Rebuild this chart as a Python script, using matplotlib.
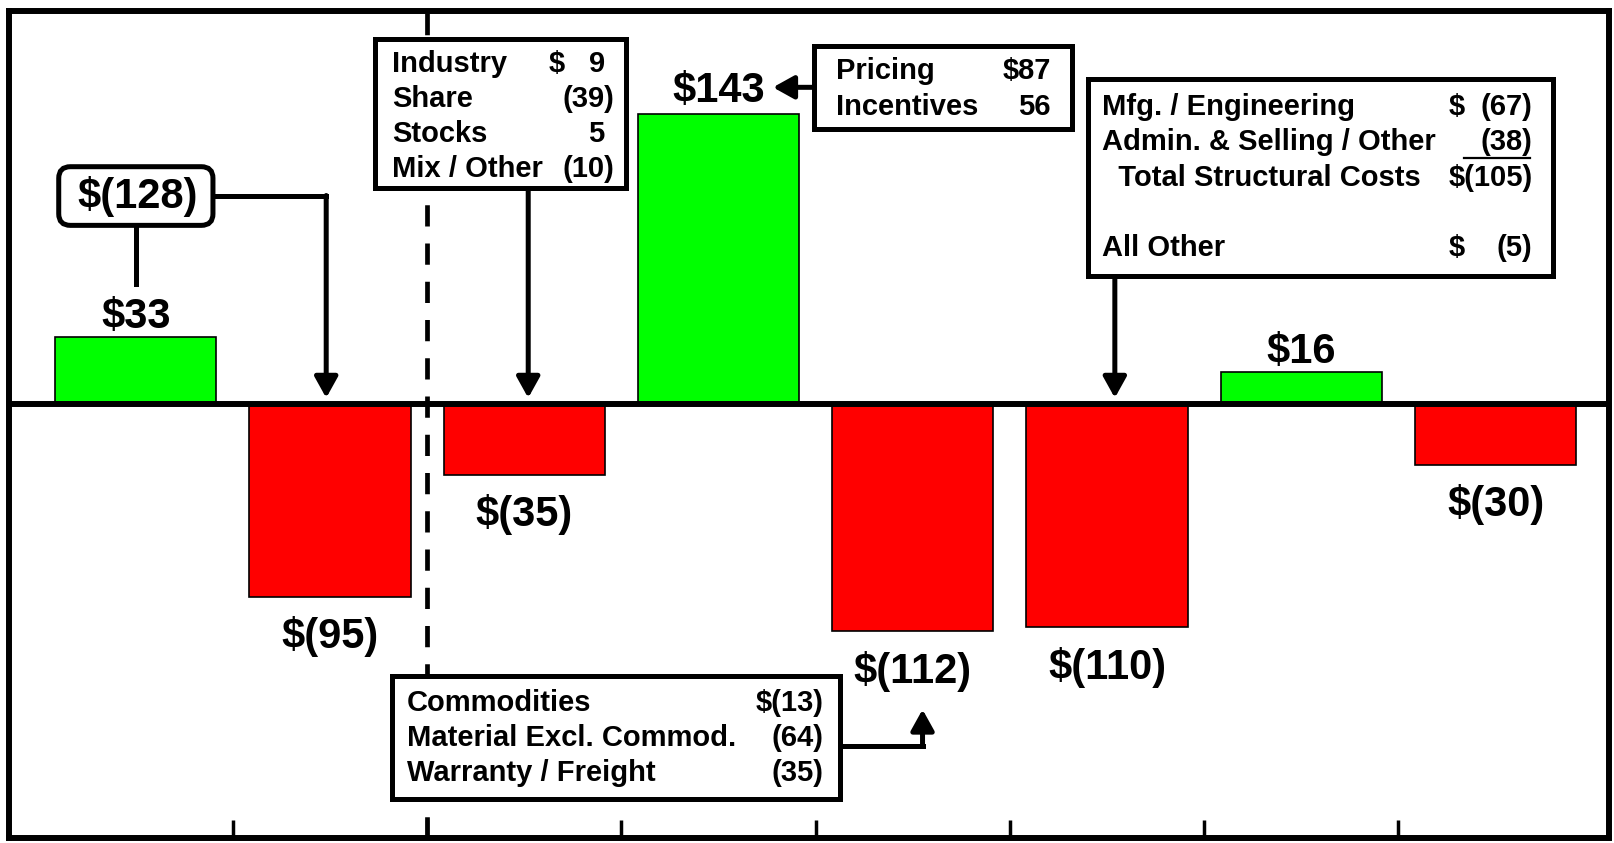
import matplotlib.pyplot as plt
from matplotlib.patches import Rectangle, FancyBboxPatch

plt.rcParams["font.family"] = ["Liberation Sans", "DejaVu Sans"]
plt.rcParams["font.weight"] = "bold"

# bar values (walk components), in $ millions
values = [33, -95, -35, 143, -112, -110, 16, -30]
subtotal = -128

volume_items = ["Industry", "Share", "Stocks", "Mix / Other"]
volume_vals = [9, -39, 5, -10]
volume_dollar = ["sep", None, None, None]

price_items = ["Pricing", "Incentives"]
price_vals = [87, 56]
price_dollar = ["adj", None]

cost_items = ["Commodities", "Material Excl. Commod.", "Warranty / Freight"]
cost_vals = [-13, -64, -35]
cost_dollar = ["adj", None, None]

struct_items = ["Mfg. / Engineering", "Admin. & Selling / Other",
                "  Total Structural Costs", "", "All Other"]
struct_vals = [-67, -38, -105, None, -5]
struct_dollar = ["sep", None, "adj", None, "sep"]

GREEN = "#00ff00"
RED = "#ff0000"
BIG = 30
SMALL = 21
LW = 3.6


def fmt(v):
    return "(%d)" % abs(v) if v < 0 else "%d" % v


def money(v):
    return "$" + fmt(v)


def table_box(ax, x0, x1, y0, y1, items, vals, dollars, xl, xr, xs, ytop, step):
    ax.add_patch(Rectangle((x0, y0), x1 - x0, y1 - y0, fc="white", ec="black",
                           lw=LW, zorder=5))
    for k, (name, v, d) in enumerate(zip(items, vals, dollars)):
        y = ytop - k * step
        if name:
            ax.text(xl, y, name, ha="left", va="center", fontsize=SMALL, zorder=6)
        if v is None:
            continue
        txt = fmt(v)
        if d == "adj":
            txt = "$" + txt
        elif d == "sep":
            ax.text(xs, y, "$", ha="left", va="center", fontsize=SMALL, zorder=6)
        shift = 0 if v < 0 else -0.333 * SMALL
        ax.annotate(txt, (xr, y), xytext=(shift, 0), textcoords="offset points",
                    ha="right", va="center", fontsize=SMALL, zorder=6)


fig = plt.figure(figsize=(16.14, 8.43), dpi=100)
ax = fig.add_axes([9 / 1614, 5 / 843, 1600 / 1614, 827 / 843])
ax.set_xlim(-0.653, 7.584)
ax.set_ylim(-213.8, 193.6)

x = list(range(len(values)))
colors = [GREEN if v > 0 else RED for v in values]
ax.bar(x, values, width=0.83, color=colors, edgecolor="black", lw=1.2, zorder=2)
ax.axhline(0, color="black", lw=4.3, zorder=3)
ax.axvline(1.5, color="black", lw=3.4, ls=(0, (4.5, 3.6)), zorder=1)

for i, v in enumerate(values):
    if i == 3:
        continue
    if v > 0:
        ax.text(i, v, money(v), ha="center", va="bottom", fontsize=BIG, zorder=6)
    else:
        ax.text(i, v - 9.5, money(v), ha="center", va="top", fontsize=BIG, zorder=6)

for s in ax.spines.values():
    s.set_linewidth(4.3)
ax.set_yticks([])
ax.set_xticks([i + 0.5 for i in range(len(values) - 1)])
ax.set_xticklabels([])
ax.tick_params(axis="x", direction="in", length=13, width=2.5)

arrow = dict(arrowstyle="-|>,head_length=0.45,head_width=0.25", lw=LW,
             color="black", mutation_scale=28, shrinkA=0, shrinkB=0)

# subtotal callout for the first two bars
ax.add_patch(FancyBboxPatch((-0.397, 88.0), 0.794, 28.9,
                            boxstyle="round,pad=0,rounding_size=0.06",
                            mutation_aspect=95, fc="white", ec="black", lw=LW, zorder=5))
ax.text(0.01, 102.0, money(subtotal), ha="center", va="center", fontsize=BIG, zorder=6)
ax.plot([0, 0], [88, 59], color="black", lw=LW, zorder=4)
ax.plot([0.397, 0.98], [102.7, 102.7], color="black", lw=LW, zorder=4,
        solid_capstyle="projecting")
ax.annotate("", xy=(0.98, 3), xytext=(0.98, 102.7), arrowprops=arrow, zorder=4)

# volume / mix box
table_box(ax, 1.229, 2.522, 106.2, 179.8, volume_items, volume_vals, volume_dollar,
          1.318, 2.464, 2.125, 167.6, 17.2)
ax.annotate("", xy=(2.02, 3), xytext=(2.02, 106.2), arrowprops=arrow, zorder=4)

# net pricing box
ax.text(3, values[3] + 1.5, money(values[3]), ha="center", va="bottom",
        fontsize=BIG, zorder=6)
table_box(ax, 3.491, 4.822, 135.6, 176.4, price_items, price_vals, price_dollar,
          3.603, 4.76, 0, 164.0, 17.7)
ax.annotate("", xy=(3.28, 156), xytext=(3.491, 156), arrowprops=arrow, zorder=4)

# material / warranty box
table_box(ax, 1.318, 3.625, -194.6, -134.0, cost_items, cost_vals, cost_dollar,
          1.394, 3.539, 0, -147.3, 17.2)
ax.plot([3.625, 4.05], [-168.5, -168.5], color="black", lw=LW, zorder=4,
        solid_capstyle="projecting")
ax.annotate("", xy=(4.05, -150.5), xytext=(4.05, -168.5), arrowprops=arrow, zorder=4)

# structural cost box
table_box(ax, 4.901, 7.296, 63.1, 160.1, struct_items, struct_vals, struct_dollar,
          4.975, 7.19, 6.76, 146.3, 17.4)
ax.plot([6.836, 7.175], [121.3, 121.3], color="black", lw=1.6, zorder=6)
ax.annotate("", xy=(5.04, 3), xytext=(5.04, 63.1), arrowprops=arrow, zorder=4)

fig.savefig("out.png", dpi=100, facecolor="white")
